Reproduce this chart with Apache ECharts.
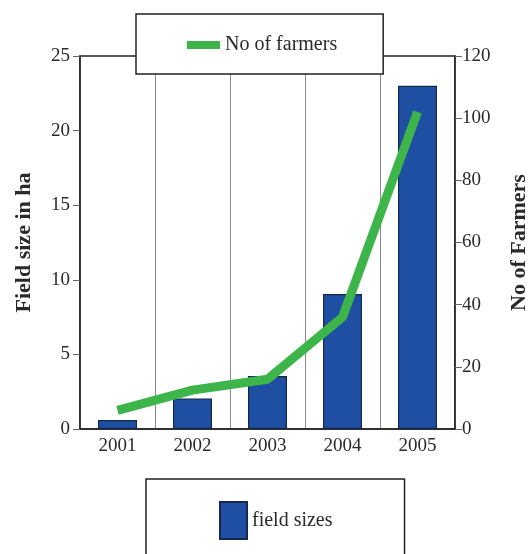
<!DOCTYPE html>
<html><head><meta charset="utf-8">
<script src="https://cdn.jsdelivr.net/npm/echarts@6/dist/echarts.min.js"></script>
<style>html,body{margin:0;padding:0;background:#fff}#c{width:528px;height:554px}</style>
</head><body><div id="c"></div>
<script>
const years = ['2001','2002','2003','2004','2005'];
const fieldSizes = [0.6, 2.05, 3.55, 9.05, 23.0];
const farmers = [6, 12.5, 16, 36, 102];
const leftTicks = {min:0, max:25, interval:5};
const rightTicks = {min:0, max:120, interval:20};
const serif = 'Liberation Serif';

const chart = echarts.init(document.getElementById('c'));
chart.setOption({
  backgroundColor:'#fff',
  animation:false,
  grid:{left:80, right:73, top:56, bottom:125, outerBoundsMode:'none', containLabel:false,
        show:true, borderColor:'#222', borderWidth:1.5, backgroundColor:'transparent'},
  legend:[
    {data:['No of farmers'], left:136, top:14, orient:'horizontal',
     padding:[21,46,19,51], backgroundColor:'#fff', borderColor:'#222', borderWidth:1.5,
     icon:'rect', itemWidth:33, itemHeight:8, itemGap:5,
     textStyle:{fontFamily:serif, fontSize:20, color:'#2a2a2a'}},
    {data:['field sizes'], left:146, top:479,
     padding:[22,72,40,73], backgroundColor:'#fff', borderColor:'#222', borderWidth:1.5,
     icon:'rect', itemWidth:27, itemHeight:37,
     textStyle:{fontFamily:serif, fontSize:20, color:'#2a2a2a'}}
  ],
  xAxis:{type:'category', data:years,
    axisLine:{lineStyle:{color:'#222', width:1.5}},
    axisTick:{show:false},
    axisLabel:{fontFamily:serif, fontSize:19, color:'#2a2a2a', margin:8},
    splitLine:{show:true, lineStyle:{color:'#8a8a8a', width:1}}
  },
  yAxis:[
    {type:'value', position:'left', min:leftTicks.min, max:leftTicks.max, interval:leftTicks.interval,
     name:'Field size in ha', nameLocation:'middle', nameGap:45, nameRotate:90,
     nameTextStyle:{fontFamily:serif, fontSize:22, fontWeight:'bold', color:'#2a2a2a'},
     axisLine:{show:true, lineStyle:{color:'#222', width:1.5}},
     axisTick:{show:true, length:7, lineStyle:{color:'#666'}},
     axisLabel:{fontFamily:serif, fontSize:19, color:'#2a2a2a', margin:10},
     splitLine:{show:false}},
    {type:'value', position:'right', min:rightTicks.min, max:rightTicks.max, interval:rightTicks.interval,
     name:'No of Farmers', nameLocation:'middle', nameGap:53, nameRotate:90,
     nameTextStyle:{fontFamily:serif, fontSize:22, fontWeight:'bold', color:'#2a2a2a'},
     axisLine:{show:true, lineStyle:{color:'#222', width:1.5}},
     axisTick:{show:true, length:7, lineStyle:{color:'#666'}},
     axisLabel:{fontFamily:serif, fontSize:19, color:'#2a2a2a', margin:7},
     splitLine:{show:false}}
  ],
  series:[
    {name:'field sizes', type:'bar', yAxisIndex:0, data:fieldSizes, barWidth:'52%',
     itemStyle:{color:'#1e4fa3', borderColor:'#14284d', borderWidth:1.2}},
    {name:'No of farmers', type:'line', yAxisIndex:1, data:farmers, symbol:'none',
     lineStyle:{color:'#3db54a', width:9}, itemStyle:{color:'#3db54a'}}
  ]
});
</script></body></html>
